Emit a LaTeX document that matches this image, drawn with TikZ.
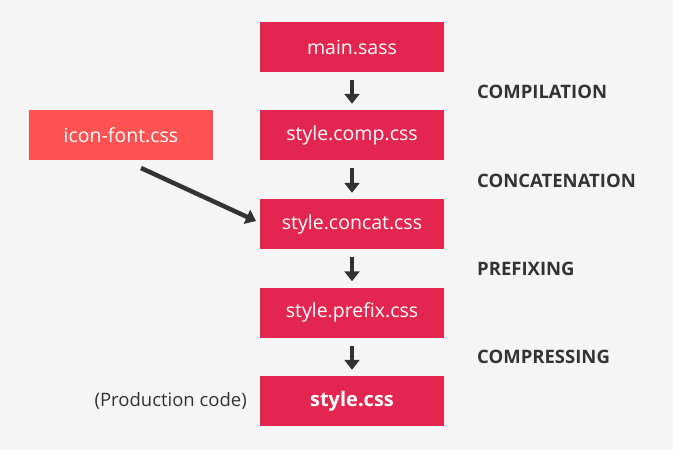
\documentclass[tikz,border=0pt]{standalone}
\usepackage{fontspec}
\setmainfont{Open Sans}
\usetikzlibrary{arrows.meta}
\definecolor{bg}{HTML}{F5F5F5}
\definecolor{crim}{HTML}{E2264F}
\definecolor{lightred}{HTML}{FF5252}
\definecolor{dark}{HTML}{333333}
\tikzset{
  filebox/.style={fill=crim, draw=none, minimum width=184pt, minimum height=50pt, inner sep=0pt, text=white, font=\fontsize{19.5}{22}\selectfont},
  stagelabel/.style={anchor=west, text=dark, inner sep=0pt, font=\fontsize{18.5}{21}\selectfont\bfseries},
  flow/.style={draw=dark, line width=4.5pt, -{Triangle[width=15pt,length=10pt]}},
}
\begin{document}
\begin{tikzpicture}[x=1pt,y=-1pt]
\fill[bg] (0,0) rectangle (673,450);
\useasboundingbox (0,0) rectangle (673,450);
\node[filebox] (main) at (352,47) {main.sass};
\node[filebox] (comp) at (352,135) {style.comp.css};
\node[filebox] (concat) at (352,224) {style.concat.css};
\node[filebox] (prefix) at (352,312.5) {style.prefix.css};
\node[filebox, font=\fontsize{20}{23}\selectfont\bfseries] (final) at (352,401) {style.css};
\node[filebox, fill=lightred] (icon) at (121,135) {icon-font.css};
\node[anchor=east, text=dark, inner sep=0pt, font=\fontsize{18.5}{21}\selectfont] (prod) at (247,401) {(Production code)};
\node[stagelabel] (l1) at (477,92) {COMPILATION};
\node[stagelabel] (l2) at (477,181) {CONCATENATION};
\node[stagelabel] (l3) at (477,269) {PREFIXING};
\node[stagelabel] (l4) at (477,357) {COMPRESSING};
\draw[flow, shorten <=8pt, shorten >=6pt] (main) -- (comp);
\draw[flow, shorten <=8pt, shorten >=6pt] (comp) -- (concat);
\draw[flow, shorten <=8pt, shorten >=6pt] (concat) -- (prefix);
\draw[flow, shorten <=8pt, shorten >=6pt] (prefix) -- (final);
\coordinate (dstart) at (141,168);
\coordinate (dend) at (256,221);
\draw[flow] (dstart) -- (dend);
\end{tikzpicture}
\end{document}
